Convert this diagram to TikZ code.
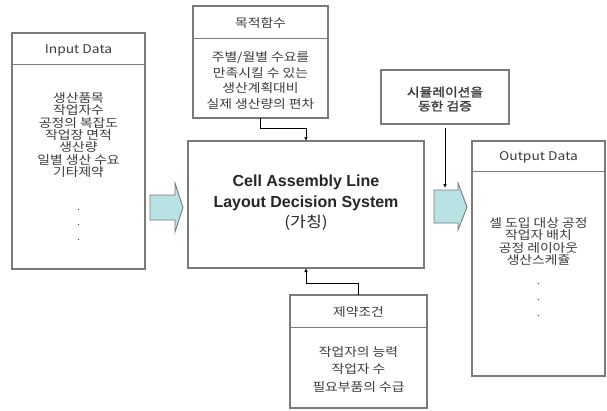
\documentclass[tikz,border=0pt]{standalone}
\usepackage{fontspec}
\setmainfont{Liberation Sans}
\newfontfamily\kr{Noto Sans CJK KR}[FakeStretch=1.15,AutoFakeBold=1.5]
\usetikzlibrary{arrows.meta}
\definecolor{edge}{HTML}{7A7A7A}
\definecolor{ink}{HTML}{3C3C3C}
\definecolor{flow}{HTML}{B9E2E4}
\tikzset{
  panel/.style={draw=edge, line width=1.2pt, fill=white, inner sep=0pt, outer sep=0pt, anchor=north west},
  rule/.style={draw=edge, line width=1pt},
  txt/.style={font=\kr\fontsize{12}{12.3}\selectfont, text=ink, align=center, inner sep=0pt},
  dots/.style={font=\kr\fontsize{9}{15}\selectfont, text=ink, align=center, inner sep=0pt},
  link/.style={draw=black, line width=0.7pt, -{Latex[length=4pt,width=3.5pt]}},
  blockarrow/.style={draw=edge, line width=0.9pt, fill=flow, line join=miter},
}
\begin{document}
\begin{tikzpicture}[x=1pt,y=-1pt]
\fill[white] (0,0) rectangle (607,410);
\useasboundingbox (0,0) rectangle (607,410);

% panels
\node[panel, minimum width=133pt, minimum height=236pt] (inbox) at (12,33) {};
\node[panel, minimum width=135pt, minimum height=112pt] (objbox) at (193,6) {};
\node[panel, minimum width=236pt, minimum height=127pt] (main) at (188,141) {};
\node[panel, minimum width=137pt, minimum height=113pt] (conbox) at (290,295) {};
\node[panel, minimum width=128pt, minimum height=54pt] (simbox) at (381,70) {};
\node[panel, minimum width=133pt, minimum height=235pt] (outbox) at (472,141) {};

% header separators
\draw[rule] (inbox.west |- 0,64) -- (inbox.east |- 0,64);
\draw[rule] (objbox.west |- 0,38) -- (objbox.east |- 0,38);
\draw[rule] (conbox.west |- 0,327) -- (conbox.east |- 0,327);
\draw[rule] (outbox.west |- 0,171) -- (outbox.east |- 0,171);

% input data
\node[txt] (intitle) at (78.5,50) {Input Data};
\node[txt] (initems) at (78.5,135) {생산품목\\작업자수\\공정의 복잡도\\작업장 면적\\생산량\\일별 생산 수요\\기타제약};
\node[dots] (indots) at (78.5,225) {.\\.\\.};

% objective function
\node[txt] (objtitle) at (260.5,23) {목적함수};
\node[txt, font=\kr\fontsize{12}{15.7}\selectfont] (objitems) at (260.5,80.5) {주별/월별 수요를\\만족시킬 수 있는\\생산계획대비\\실제 생산량의 편차};

% system
\node[txt, font=\bfseries\fontsize{16}{20.5}\selectfont, text=black!85] (systext) at (306,203) {Cell Assembly Line\\Layout Decision System\\{\kr\mdseries\fontsize{15}{20.5}\selectfont (가칭)}};

% constraints
\node[txt] (contitle) at (358.5,312) {제약조건};
\node[txt, font=\kr\fontsize{12}{17.5}\selectfont] (conitems) at (358.5,369.5) {작업자의 능력\\작업자 수\\필요부품의 수급};

% simulation
\node[txt, font=\kr\bfseries\fontsize{12}{14}\selectfont] (simtext) at (445,99) {시뮬레이션을\\동한 검증};

% output data
\node[txt] (outtitle) at (538.5,157) {Output Data};
\node[txt] (outitems) at (538.5,241.5) {셀 도입 대상 공정\\작업자 배치\\공정 레이아웃\\생산스케쥴};
\node[dots, font=\kr\fontsize{9}{16}\selectfont] (outdots) at (538.5,300) {.\\.\\.};

% block arrows
\draw[blockarrow] (150,195) -- (175,195) -- (175,183) -- (183,207.5) -- (175,232) -- (175,220) -- (150,220) -- cycle;
\draw[blockarrow] (434,190) -- (458,190) -- (458,183) -- (467,207) -- (458,230) -- (458,223) -- (434,223) -- cycle;

% connectors
\draw[link] (objbox.south) -- ++(0,10) -| (main.north);
\draw[link] (conbox.north) -- ++(0,-12) -| (main.south);
\coordinate (simtip) at (445,188);
\draw[link, shorten <=4pt] (simbox.south) -- (simtip);
\end{tikzpicture}
\end{document}
